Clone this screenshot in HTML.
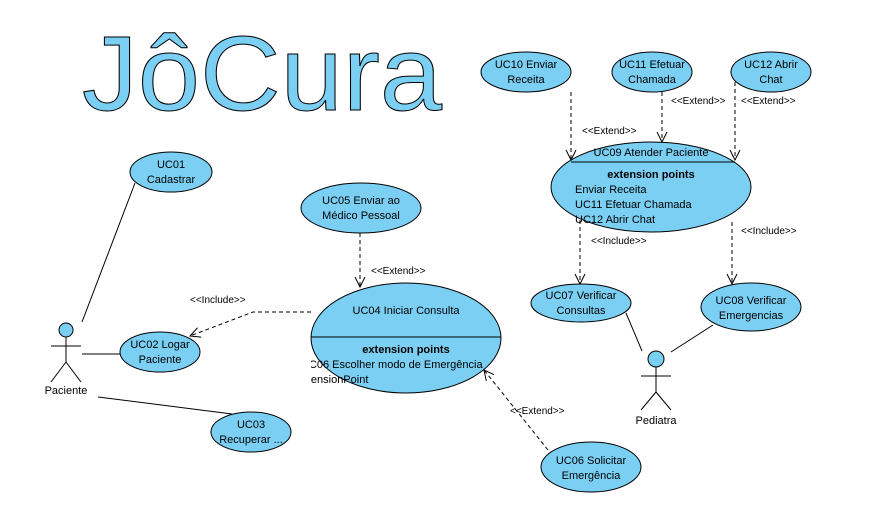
<!DOCTYPE html>
<html><head><meta charset="utf-8"><style>
html,body{margin:0;padding:0;background:#fff;}
svg{display:block;font-family:"Liberation Sans",sans-serif;}
</style></head><body>
<svg width="883" height="522" viewBox="0 0 883 522" xmlns="http://www.w3.org/2000/svg">
<defs>
<marker id="a" markerWidth="12" markerHeight="12" refX="11" refY="6" orient="auto" markerUnits="userSpaceOnUse">
<path d="M1,1 L11,6 L1,11" fill="none" stroke="#000" stroke-width="1"/>
</marker>
<clipPath id="c4"><rect x="311" y="340" width="200" height="60"/></clipPath>
</defs>
<text x="82" y="110" font-size="106" fill="#7ACFF3" stroke="#000" stroke-width="1" textLength="360" lengthAdjust="spacingAndGlyphs">JôCura</text>

<g fill="#7ACFF3" stroke="#000" stroke-width="1">
<ellipse cx="171" cy="172" rx="41" ry="20"/>
<ellipse cx="160" cy="352" rx="40" ry="20"/>
<ellipse cx="251" cy="432" rx="40" ry="20"/>
<ellipse cx="361" cy="208" rx="60" ry="25"/>
<ellipse cx="406" cy="338" rx="95" ry="55"/>
<ellipse cx="591" cy="467" rx="50" ry="25"/>
<ellipse cx="526" cy="72" rx="45" ry="20"/>
<ellipse cx="652" cy="72" rx="40" ry="20"/>
<ellipse cx="771" cy="72" rx="40" ry="20"/>
<ellipse cx="651" cy="187" rx="100" ry="45"/>
<ellipse cx="581" cy="303" rx="50" ry="19"/>
<ellipse cx="751" cy="307" rx="50" ry="24"/>
<circle cx="66" cy="330" r="7"/>
<circle cx="656" cy="359" r="8"/>
</g>
<g stroke="#000" stroke-width="1" fill="none">
<line x1="311" y1="337" x2="501" y2="337"/>
<line x1="571" y1="162" x2="735" y2="162"/>
<line x1="66" y1="337" x2="66" y2="362"/><line x1="51" y1="346" x2="81" y2="346"/>
<line x1="66" y1="362" x2="51" y2="382"/><line x1="66" y1="362" x2="81" y2="382"/>
<line x1="656" y1="367" x2="656" y2="392"/><line x1="641" y1="376" x2="671" y2="376"/>
<line x1="656" y1="392" x2="641" y2="410"/><line x1="656" y1="392" x2="671" y2="410"/>
<line x1="82" y1="322" x2="135" y2="183"/>
<line x1="82" y1="354" x2="120" y2="354"/>
<line x1="98" y1="397" x2="232" y2="414"/>
<line x1="626" y1="313" x2="642" y2="351"/>
<line x1="671" y1="352" x2="713" y2="325"/>
</g>
<g stroke="#000" stroke-width="1" fill="none" stroke-dasharray="4,3" marker-end="url(#a)">
<polyline points="311,312 253,312 190,336"/>
<line x1="360" y1="233" x2="360" y2="287"/>
<line x1="548" y1="450" x2="484" y2="370"/>
<line x1="571" y1="92" x2="571" y2="160"/>
<line x1="662" y1="92" x2="662" y2="142"/>
<line x1="735" y1="82" x2="735" y2="160"/>
<line x1="580" y1="220" x2="580" y2="284"/>
<line x1="732" y1="222" x2="732" y2="284"/>
</g>
<g font-size="11" fill="#000" text-anchor="middle">
<text x="171" y="168">UC01</text><text x="171" y="183">Cadastrar</text>
<text x="160" y="348">UC02 Logar</text><text x="160" y="363">Paciente</text>
<text x="251" y="428">UC03</text><text x="251" y="443">Recuperar ...</text>
<text x="361" y="204">UC05 Enviar ao</text><text x="361" y="219">Médico Pessoal</text>
<text x="406" y="314">UC04 Iniciar Consulta</text>
<text x="406" y="353" font-weight="bold">extension points</text>
<text x="591" y="464">UC06 Solicitar</text><text x="591" y="479">Emergência</text>
<text x="526" y="68">UC10 Enviar</text><text x="526" y="83">Receita</text>
<text x="652" y="68">UC11 Efetuar</text><text x="652" y="83">Chamada</text>
<text x="771" y="68">UC12  Abrir</text><text x="771" y="83">Chat</text>
<text x="651" y="156">UC09  Atender Paciente</text>
<text x="651" y="178" font-weight="bold">extension points</text>
<text x="581" y="299">UC07 Verificar</text><text x="581" y="314">Consultas</text>
<text x="751" y="304">UC08 Verificar</text><text x="751" y="319">Emergencias</text>
<text x="66" y="394">Paciente</text>
<text x="656" y="424">Pediatra</text>
</g>
<g font-size="11" fill="#000" clip-path="url(#c4)">
<text x="301" y="368">UC06 Escolher modo de Emergência</text>
<text x="295" y="383">ExtensionPoint</text>
</g>
<g font-size="11" fill="#000">
<text x="575" y="193">Enviar Receita</text>
<text x="575" y="208">UC11 Efetuar Chamada</text>
<text x="575" y="223">UC12  Abrir Chat</text>
</g>
<g font-size="10" fill="#000">
<text x="190" y="303">&lt;&lt;Include&gt;&gt;</text>
<text x="371" y="274">&lt;&lt;Extend&gt;&gt;</text>
<text x="510" y="414">&lt;&lt;Extend&gt;&gt;</text>
<text x="582" y="134">&lt;&lt;Extend&gt;&gt;</text>
<text x="671" y="104">&lt;&lt;Extend&gt;&gt;</text>
<text x="741" y="104">&lt;&lt;Extend&gt;&gt;</text>
<text x="591" y="244">&lt;&lt;Include&gt;&gt;</text>
<text x="741" y="234">&lt;&lt;Include&gt;&gt;</text>
</g>
</svg>
</body></html>
